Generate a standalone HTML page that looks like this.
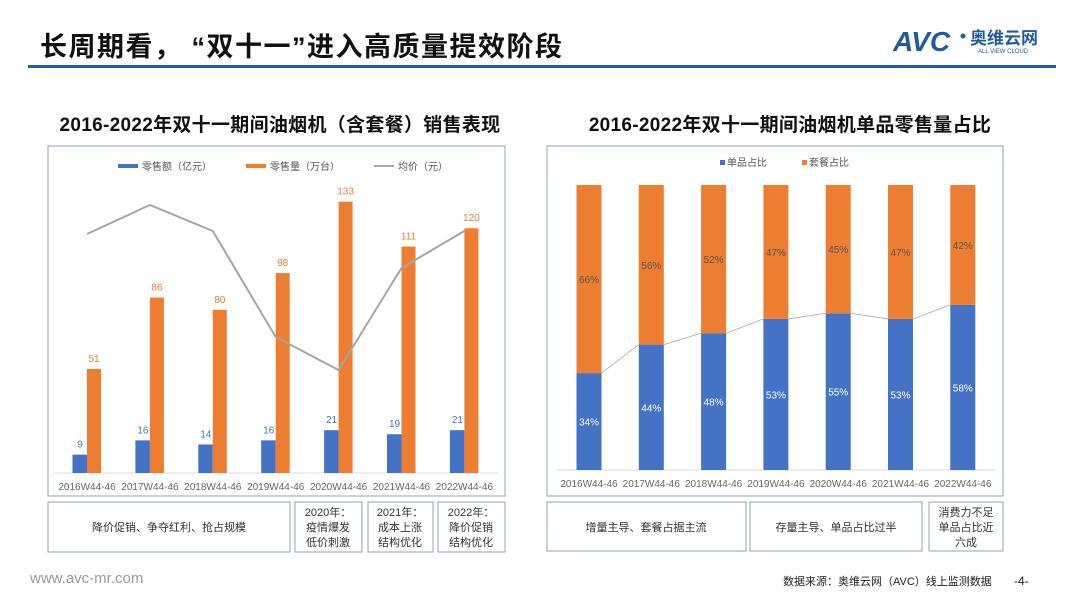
<!DOCTYPE html>
<html><head><meta charset="utf-8">
<style>
body{margin:0;width:1080px;height:608px;background:#fff;overflow:hidden;font-family:"Liberation Sans","Noto Sans CJK SC",sans-serif;}
svg text{font-family:"Liberation Sans","Noto Sans CJK SC",sans-serif;}
</style></head><body>
<svg width="1080" height="608" viewBox="0 0 1080 608" xmlns="http://www.w3.org/2000/svg">
<text x="40" y="56" font-size="27" font-weight="bold" fill="#111" letter-spacing="1.5">长周期看， “双十一”进入高质量提效阶段</text>
<rect x="28" y="65" width="1028" height="3" fill="#1f5c99"/>
<g>
<text x="893" y="51" font-size="28" font-weight="bold" font-style="italic" fill="#1f5c99">AVC</text>
<circle cx="963" cy="36" r="2.5" fill="#1f5c99"/>
<text x="970" y="44" font-size="17" font-weight="bold" fill="#1f5c99">奥维云网</text>
<text x="978" y="53" font-size="6" fill="#1f5c99">ALL VIEW CLOUD</text>
</g>
<text x="280" y="131" font-size="19" font-weight="bold" text-anchor="middle" fill="#111" letter-spacing="0.3">2016-2022年双十一期间油烟机（含套餐）销售表现</text>
<text x="790" y="131" font-size="19" font-weight="bold" text-anchor="middle" fill="#111" letter-spacing="0.3">2016-2022年双十一期间油烟机单品零售量占比</text>
<rect x="48" y="146" width="457" height="350" fill="none" stroke="#8fa3b8" stroke-width="1"/>
<rect x="547" y="146" width="456" height="350" fill="none" stroke="#8fa3b8" stroke-width="1"/>
<g id="left"></g>
<g id="right"></g>
<g font-size="11" fill="#333" text-anchor="middle" stroke="none">
<rect x="48" y="502" width="242" height="50" fill="none" stroke="#8fa3b8"/>
<text x="169" y="531">降价促销、争夺红利、抢占规模</text>
<rect x="295" y="502" width="67" height="50" fill="none" stroke="#8fa3b8"/>
<text x="328" y="516">2020年：</text><text x="328" y="531">疫情爆发</text><text x="328" y="546">低价刺激</text>
<rect x="368" y="502" width="65" height="50" fill="none" stroke="#8fa3b8"/>
<text x="400" y="516">2021年：</text><text x="400" y="531">成本上涨</text><text x="400" y="546">结构优化</text>
<rect x="438" y="502" width="67" height="50" fill="none" stroke="#8fa3b8"/>
<text x="471" y="516">2022年：</text><text x="471" y="531">降价促销</text><text x="471" y="546">结构优化</text>
<rect x="547" y="502" width="199" height="49" fill="none" stroke="#8fa3b8"/>
<text x="646" y="531">增量主导、套餐占据主流</text>
<rect x="750" y="502" width="172" height="49" fill="none" stroke="#8fa3b8"/>
<text x="836" y="531">存量主导、单品占比过半</text>
<rect x="929" y="502" width="74" height="49" fill="none" stroke="#8fa3b8"/>
<text x="966" y="516">消费力不足</text><text x="966" y="531">单品占比近</text><text x="966" y="546">六成</text>
</g>
<text x="30" y="583" font-size="15" fill="#999">www.avc-mr.com</text>
<text x="783" y="585" font-size="11" fill="#222">数据来源：奥维云网（AVC）线上监测数据</text>
<text x="1014" y="585" font-size="12" fill="#222">-4-</text>
</svg>
<script>
const cats=["2016W44-46","2017W44-46","2018W44-46","2019W44-46","2020W44-46","2021W44-46","2022W44-46"];
const revenue=[9,16,14,16,21,19,21];
const volume=[51,86,80,98,133,111,120];
const avgPrice=[3936,4400,3984,2288,1760,3392,3984];
const singleShare=[34,44,48,53,55,53,58];
const comboShare=[66,56,52,47,45,47,42];
const NS="http://www.w3.org/2000/svg";
function mk(p,t,a){const e=document.createElementNS(NS,t);for(const k in a)e.setAttribute(k,a[k]);p.appendChild(e);return e;}
// left chart
const L=document.getElementById('left');
const lx=i=>87+i*62.9, lyBar=v=>473-v*2.04, lyP=v=>480-v/16;
let g=mk(L,'g',{});
mk(g,'rect',{x:118,y:164,width:20,height:4,fill:'#4472c4'});
let t=mk(g,'text',{x:142,y:170,'font-size':10,fill:'#555'});t.textContent='零售额（亿元）';
mk(g,'rect',{x:246,y:164,width:20,height:4,fill:'#ed7d31'});
t=mk(g,'text',{x:270,y:170,'font-size':10,fill:'#555'});t.textContent='零售量（万台）';
mk(g,'rect',{x:374,y:165,width:20,height:2,fill:'#a5a5a5'});
t=mk(g,'text',{x:398,y:170,'font-size':10,fill:'#555'});t.textContent='均价（元）';
let ax=mk(L,'line',{x1:55,y1:473,x2:498,y2:473,stroke:'#d9d9d9'});

cats.forEach((c,i)=>{
 const x=lx(i);
 let b=mk(L,'rect',{x:x-14.5,y:lyBar(revenue[i]),width:14.5,height:473-lyBar(revenue[i]),fill:'#4472c4'});
 
 b=mk(L,'rect',{x:x,y:lyBar(volume[i]),width:14,height:473-lyBar(volume[i]),fill:'#ed7d31'});
 
 let l=mk(L,'text',{x:x-7,y:lyBar(revenue[i])-7,'font-size':10,fill:'#4472c4','text-anchor':'middle'});l.textContent=revenue[i];
 
 l=mk(L,'text',{x:x+7,y:lyBar(volume[i])-7,'font-size':10,fill:'#ed7d31','text-anchor':'middle'});l.textContent=volume[i];
 
 l=mk(L,'text',{x:x,y:490,'font-size':10,fill:'#666','text-anchor':'middle'});l.textContent=c;
 
});
let pl=mk(L,'polyline',{points:avgPrice.map((v,i)=>lx(i)+','+lyP(v)).join(' '),fill:'none',stroke:'#a5a5a5','stroke-width':2});

// right chart
const R=document.getElementById('right');
const rx=i=>589+i*62.3, ry=v=>470-v*2.85;
g=mk(R,'g',{});
mk(g,'rect',{x:720,y:160,width:5,height:5,fill:'#4472c4'});
t=mk(g,'text',{x:727,y:166,'font-size':10,fill:'#555'});t.textContent='单品占比';
mk(g,'rect',{x:802,y:160,width:5,height:5,fill:'#ed7d31'});
t=mk(g,'text',{x:809,y:166,'font-size':10,fill:'#555'});t.textContent='套餐占比';
ax=mk(R,'line',{x1:556,y1:470,x2:995,y2:470,stroke:'#d9d9d9'});

cats.forEach((c,i)=>{
 const x=rx(i),w=25;
 let b=mk(R,'rect',{x:x-w/2,y:ry(singleShare[i]),width:w,height:470-ry(singleShare[i]),fill:'#4472c4'});
 
 b=mk(R,'rect',{x:x-w/2,y:ry(singleShare[i]+comboShare[i]),width:w,height:ry(singleShare[i])-ry(singleShare[i]+comboShare[i]),fill:'#ed7d31'});
 
 let l=mk(R,'text',{x:x,y:(ry(singleShare[i])+470)/2+4,'font-size':10,fill:'#fff','text-anchor':'middle'});l.textContent=singleShare[i]+'%';
 
 l=mk(R,'text',{x:x,y:(ry(singleShare[i])+ry(100))/2+4,'font-size':10,fill:'#555','text-anchor':'middle'});l.textContent=comboShare[i]+'%';
 
 l=mk(R,'text',{x:x,y:487,'font-size':10,fill:'#666','text-anchor':'middle'});l.textContent=c;
 
});
for(let i=0;i<cats.length-1;i++){
 let s=mk(R,'line',{x1:rx(i)+12.5,y1:ry(singleShare[i]),x2:rx(i+1)-12.5,y2:ry(singleShare[i+1]),stroke:'#aaa','stroke-width':0.8});
 
}
</script>
</body></html>
